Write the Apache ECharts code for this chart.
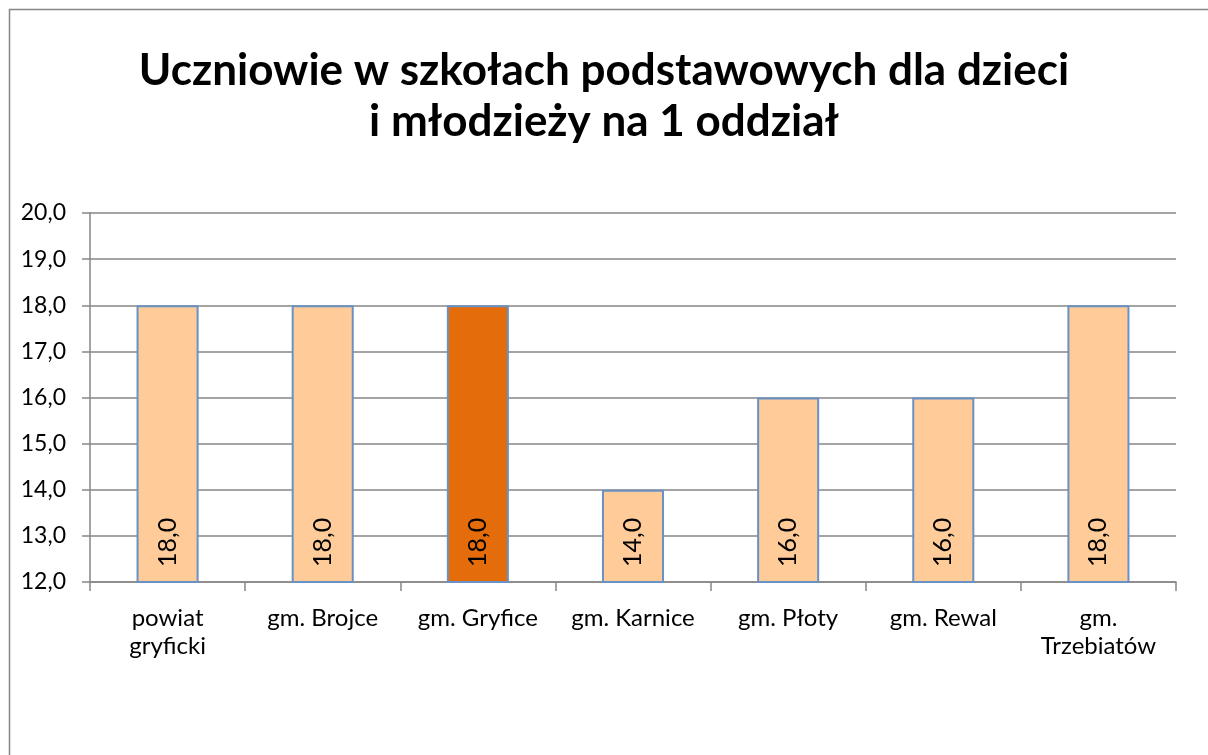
<!DOCTYPE html>
<html><head><meta charset="utf-8">
<script src="https://cdn.jsdelivr.net/npm/echarts@6/dist/echarts.min.js"></script>
<style>html,body{margin:0;padding:0;background:#fff}#c{width:1208px;height:755px}</style>
</head><body><div id="c"></div>
<script>
const categories = ['powiat\ngryficki','gm. Brojce','gm. Gryfice','gm. Karnice','gm. Płoty','gm. Rewal','gm.\nTrzebiatów'];
const values = [18.0, 18.0, 18.0, 14.0, 16.0, 16.0, 18.0];
const highlightIndex = 2;
const titleText = 'Uczniowie w szkołach podstawowych dla dzieci\ni młodzieży na 1 oddział';
const fmt = v => Number(v).toFixed(1).replace('.', ',');
const FONT = 'Lato, "Open Sans", sans-serif';
const chart = echarts.init(document.getElementById('c'));
chart.setOption({
  animation: false,
  title: {
    text: titleText, left: 'center', top: 40,
    textStyle: {fontFamily: FONT, fontSize: 44, fontWeight: 'bold', color: '#000', lineHeight: 51}
  },
  graphic: [{type: 'rect', shape: {x: 9.5, y: 9.5, width: 1220, height: 780}, style: {fill: null, stroke: '#868686', lineWidth: 1.5}, silent: true}],
  grid: {left: 90, right: 32, top: 213, bottom: 173},
  xAxis: {
    type: 'category', data: categories,
    axisLine: {lineStyle: {color: '#868686', width: 1.5}},
    axisTick: {show: true, length: 9, lineStyle: {color: '#868686', width: 1.5}},
    axisLabel: {fontFamily: FONT, fontSize: 24, color: '#000', lineHeight: 28, margin: 22, interval: 0}
  },
  yAxis: {
    type: 'value', min: 12, max: 20, interval: 1,
    axisLine: {show: true, lineStyle: {color: '#868686', width: 1.5}},
    axisTick: {show: true, length: 8, lineStyle: {color: '#868686', width: 1.5}},
    splitLine: {lineStyle: {color: '#868686', width: 1.5}},
    axisLabel: {fontFamily: FONT, fontSize: 23, color: '#000', margin: 24, formatter: fmt}
  },
  series: [{
    type: 'bar', barWidth: '40%',
    data: values.map((v, i) => ({value: v, itemStyle: {color: i === highlightIndex ? '#E46C0A' : '#FFCC99'}})),
    itemStyle: {borderColor: '#6A91C6', borderWidth: 2},
    label: {show: true, position: 'insideBottom', rotate: 90, align: 'left', verticalAlign: 'middle', distance: 16,
      fontFamily: FONT, fontSize: 25, color: '#000', formatter: p => fmt(p.value)}
  }]
});
</script></body></html>
